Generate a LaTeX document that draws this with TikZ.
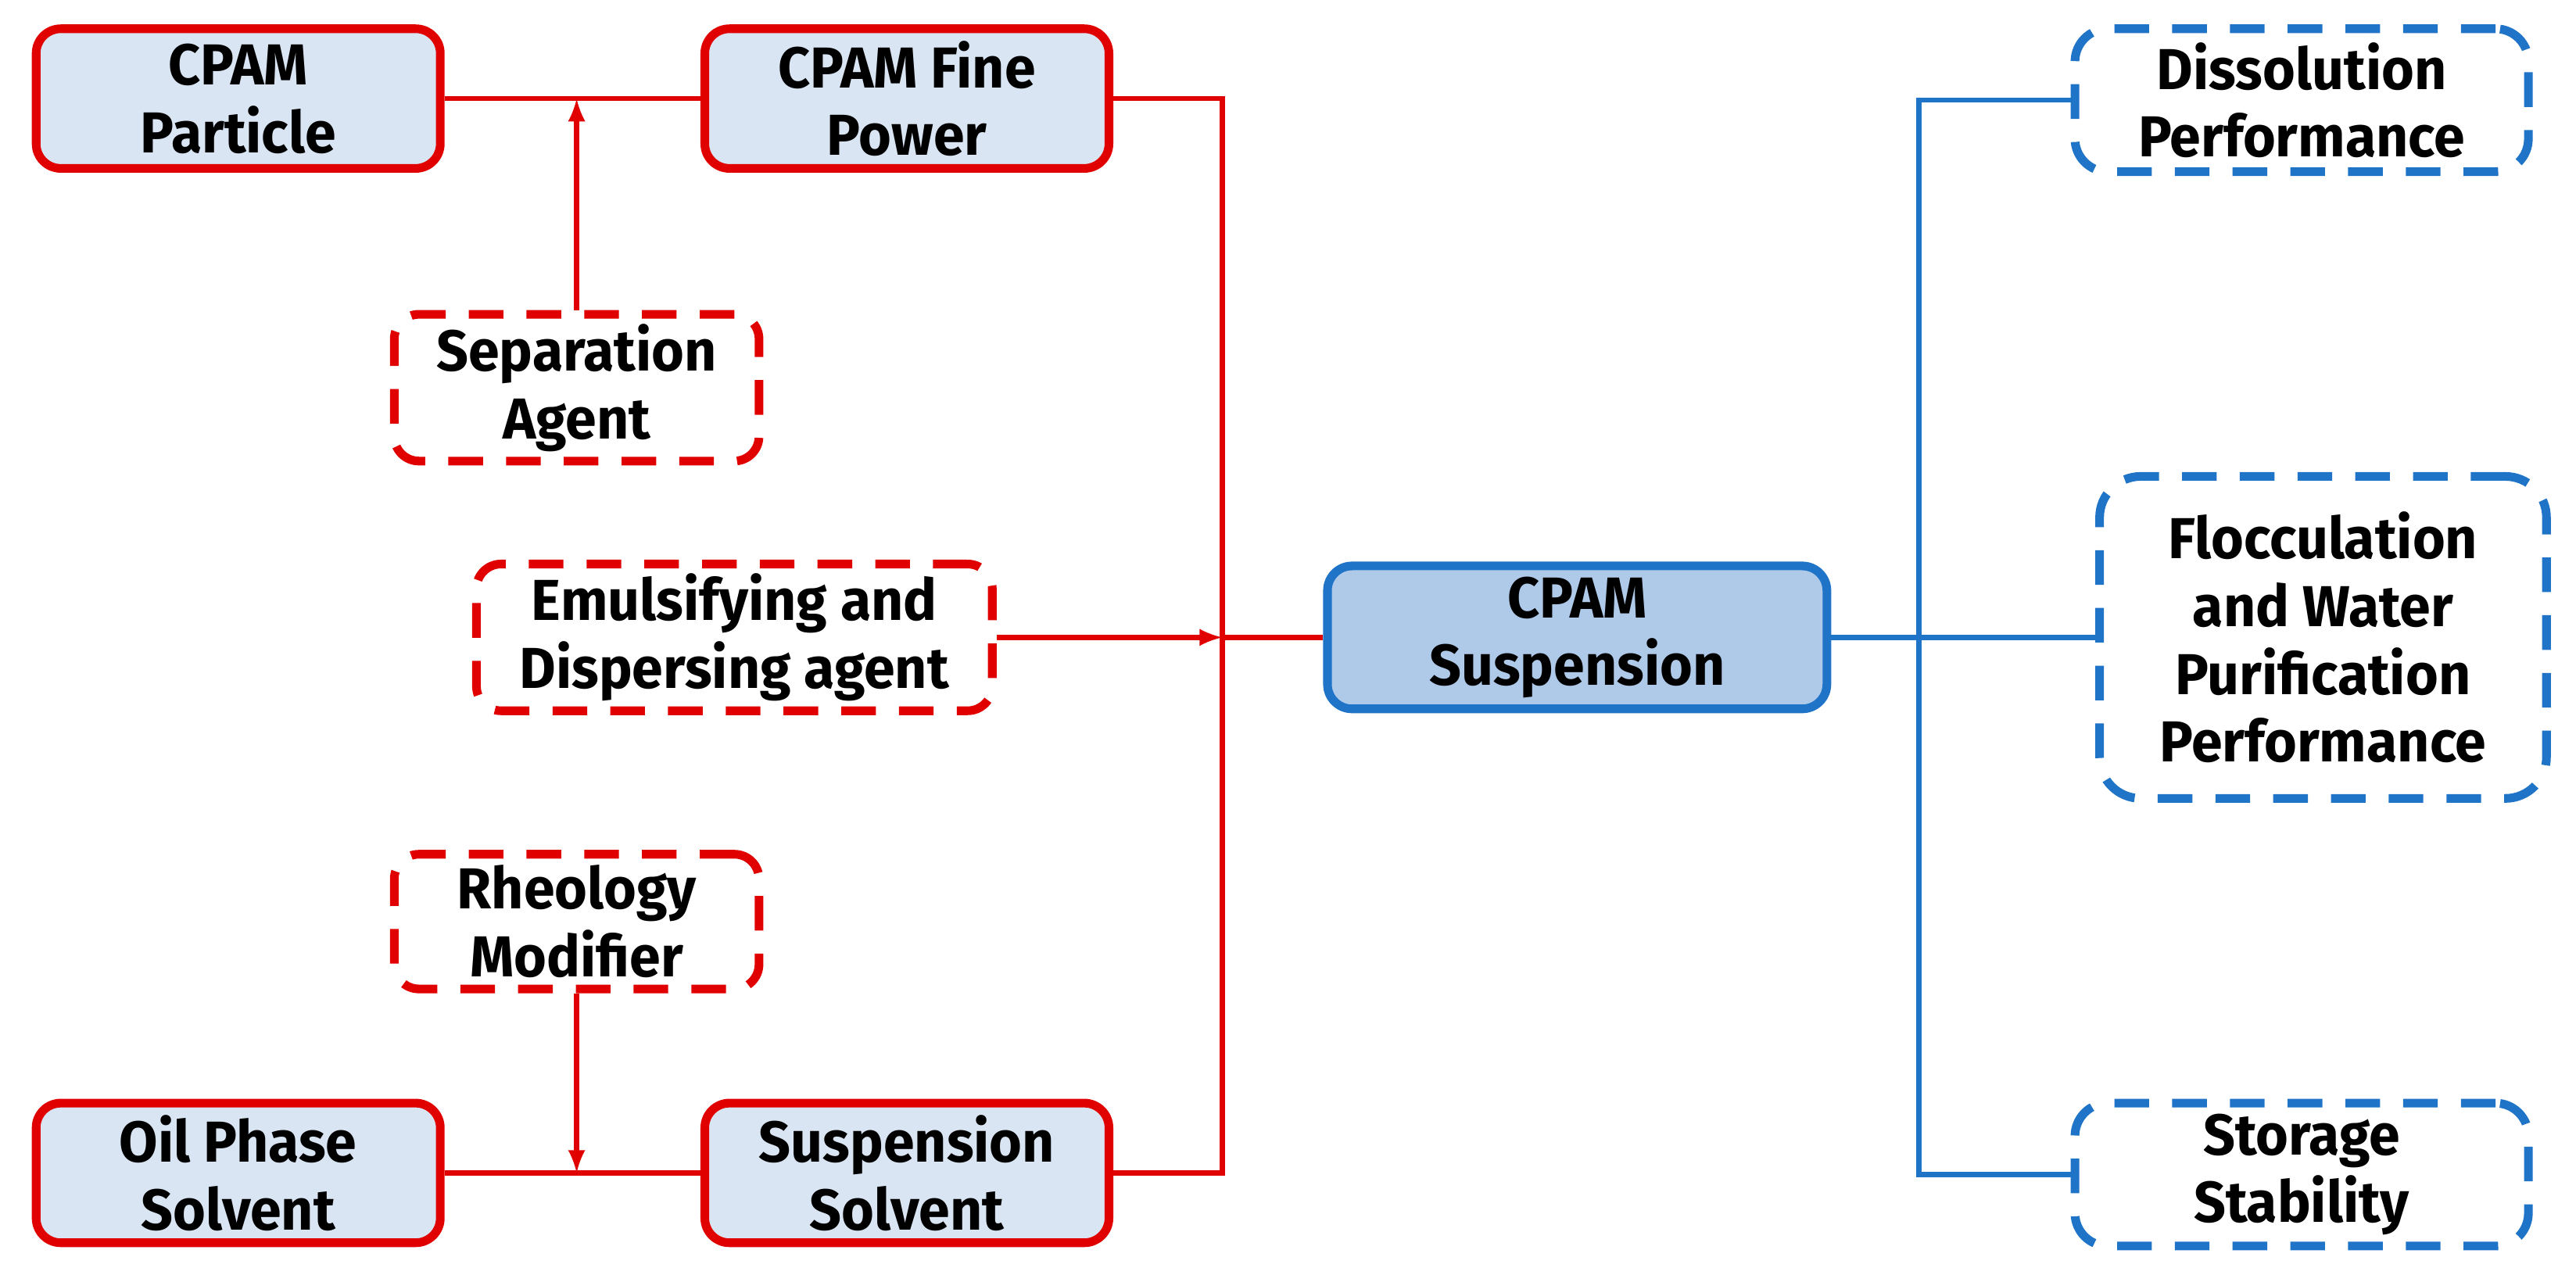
\documentclass[tikz,border=0pt]{standalone}
\usepackage{fontspec}
\usepackage{xcolor}
\usetikzlibrary{calc}
\setmainfont{Fira Sans}[FakeStretch=0.97]
\definecolor{boxred}{HTML}{E00000}
\definecolor{boxblue}{HTML}{1F74C8}
\definecolor{paleblue}{HTML}{DAE5F4}
\definecolor{midblue}{HTML}{AFC9E9}

\begin{document}
\begin{tikzpicture}[
  every node/.style={align=center, font=\bfseries\fontsize{20}{23.5}\selectfont},
  redbox/.style={draw=boxred, fill=paleblue, line width=3pt, rounded corners=0.3cm, minimum width=4.92cm, minimum height=1.70cm},
  reddash/.style={draw=boxred, line width=3pt, dash pattern=on 12pt off 8pt, rounded corners=0.3cm, minimum height=1.64cm},
  bluebox/.style={draw=boxblue, fill=midblue, line width=3pt, rounded corners=0.3cm, minimum width=6.08cm, minimum height=1.74cm},
  bluedash/.style={draw=boxblue, line width=3pt, dash pattern=on 12pt off 8pt, rounded corners=0.4cm, minimum width=5.52cm, minimum height=1.74cm},
  redline/.style={draw=boxred, line width=1.7pt},
  blueline/.style={draw=boxblue, line width=1.7pt}
]
  % Fix the page to the reference size
  \useasboundingbox (0,0) rectangle (31.36,-15.52);

  % Left side: ingredients
  \node[redbox] (particle) at (2.90,-1.20) {CPAM\\Particle};
  \node[redbox] (finepower) at (11.04,-1.20) {CPAM Fine\\Power};
  \node[reddash, minimum width=4.44cm] (separation) at (7.02,-4.72) {Separation\\Agent};
  \node[reddash, minimum width=6.28cm] (emulsifier) at (8.94,-7.76) {Emulsifying and\\Dispersing agent};
  \node[reddash, minimum width=4.44cm] (rheology) at (7.02,-11.22) {Rheology\\Modifier};
  \node[redbox] (oilphase) at (2.90,-14.28) {Oil Phase\\Solvent};
  \node[redbox] (solvent) at (11.04,-14.28) {Suspension\\Solvent};

  % Middle: product
  \node[bluebox] (suspension) at (19.20,-7.76) {CPAM\\Suspension};

  % Right side: properties
  \node[bluedash] (dissolution) at (28.02,-1.22) {Dissolution\\Performance};
  \node[bluedash, minimum width=5.44cm, minimum height=3.92cm, rounded corners=0.5cm] (flocculation) at (28.28,-7.76) {Flocculation\\and Water\\Purification\\Performance};
  \node[bluedash] (storage) at (28.02,-14.30) {Storage\\Stability};

  % Junction points
  \coordinate (topjoin) at ($(particle.east)!0.5!(finepower.west)$);
  \coordinate (botjoin) at ($(oilphase.east)!0.5!(solvent.west)$);
  \coordinate (redbus) at (14.88,-7.76);
  \coordinate (bluebus) at (23.36,-7.76);

  % Red connectors
  \draw[redline] (particle.east) -- (finepower.west);
  \draw[redline, -latex] (separation.north) -- (separation.north |- topjoin);
  \draw[redline] (oilphase.east) -- (solvent.west);
  \draw[redline, -latex] (rheology.south) -- (rheology.south |- botjoin);
  \draw[redline] (finepower.east) -| (redbus) |- (solvent.east);
  \draw[redline, -latex] (emulsifier.east) -- (redbus);
  \draw[redline] (redbus) -- (suspension.west);

  % Blue connectors
  \draw[blueline] (suspension.east) -- (flocculation.west);
  \draw[blueline] (dissolution.west) -| (bluebus) |- (storage.west);
\end{tikzpicture}
\end{document}
